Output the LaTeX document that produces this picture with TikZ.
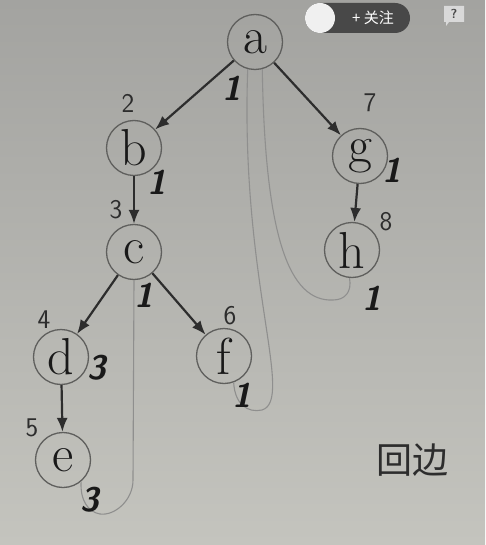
\documentclass[tikz,border=0pt]{standalone}
\usepackage{fontspec}
\newfontfamily\cjk{Noto Sans CJK SC}
\usepackage{tikz}
\usetikzlibrary{arrows}
\usetikzlibrary{arrows.meta}
\definecolor{paperTop}{RGB}{163,163,160}
\definecolor{paperBot}{RGB}{196,196,190}
\definecolor{pen}{RGB}{45,45,45}
\definecolor{pencil}{RGB}{95,95,93}
\definecolor{pill}{RGB}{72,72,72}

\begin{document}
\begin{tikzpicture}[x=1pt,y=-1pt]
\tikzstyle{vertex}=[circle,draw=pencil,line width=1.3pt,minimum size=55pt,inner sep=0pt,font=\fontsize{52}{52}\selectfont,text=black!90]
\tikzstyle{tree}=[-{Latex[length=14pt,width=11pt]},line width=2.2pt,draw=pen]
\tikzstyle{back}=[draw=pencil!70,line width=1.1pt]
\tikzstyle{order}=[font=\sffamily\fontsize{27}{27}\selectfont,text=pen]
\tikzstyle{low}=[font=\sffamily\bfseries\itshape\fontsize{34}{34}\selectfont,text=black!90]
\useasboundingbox (0,0) rectangle (485,545);
\shade[top color=paperTop,bottom color=paperBot] (0,0) rectangle (485,545);
% overlay of the video page
\fill[pill,rounded corners=15pt] (305,3) rectangle (410,33);
\fill[white!88!gray] (320,18) circle (15);
\node[text=white,font=\cjk\fontsize{15}{15}\selectfont] (follow) at (373,18) {+ 关注};
\fill[white!70!gray] (444,6) rectangle (464,22) -- (449,22) -- (446,26) -- (446,22) -- cycle;
\node[text=pill,font=\sffamily\bfseries\fontsize{13}{13}\selectfont] (help) at (454,14) {?};
% the tree
\node[vertex] (a) at (255,42) {a};
\node[vertex] (b) at (134,148) {b};
\node[vertex] (g) at (360,156) {g};
\node[vertex] (c) at (134,252) {c};
\node[vertex] (h) at (352,250) {h};
\node[vertex] (d) at (61,357) {d};
\node[vertex] (f) at (224,356) {f};
\node[vertex] (e) at (63,460) {e};
\draw[tree] (a) -- (b);
\draw[tree] (a) -- (g);
\draw[tree] (b) -- (c);
\draw[tree] (g) -- (h);
\draw[tree] (c) -- (d);
\draw[tree] (c) -- (f);
\draw[tree] (d) -- (e);
% back edges
\draw[back] (c.-90) -- (133,480) .. controls (133,500) and (115,516) .. (100,514) .. controls (88,512) and (80,500) .. (e.-50);
\draw[back] (a.-105) .. controls (240,280) and (295,400) .. (262,410) .. controls (248,413) and (235,405) .. (f.-70);
\draw[back] (a.-75) .. controls (265,240) and (290,302) .. (333,300) .. controls (345,300) and (352,292) .. (h.-95);
% visit order
\node[order] (n2) at (128,103) {2};
\node[order] (n7) at (370,103) {7};
\node[order] (n3) at (116,210) {3};
\node[order] (n8) at (386,222) {8};
\node[order] (n4) at (44,320) {4};
\node[order] (n6) at (230,316) {6};
\node[order] (n5) at (32,428) {5};
% low values
\node[low] (la) at (232,88) {1};
\node[low] (lb) at (157,182) {1};
\node[low] (lg) at (392,170) {1};
\node[low] (lc) at (144,295) {1};
\node[low] (lh) at (372,298) {1};
\node[low] (ld) at (97,368) {3};
\node[low] (lf) at (242,395) {1};
\node[low] (le) at (90,500) {3};
\node[text=pen,font=\cjk\fontsize{36}{36}\selectfont] (backedge) at (412,460) {回边};
\end{tikzpicture}
\end{document}
